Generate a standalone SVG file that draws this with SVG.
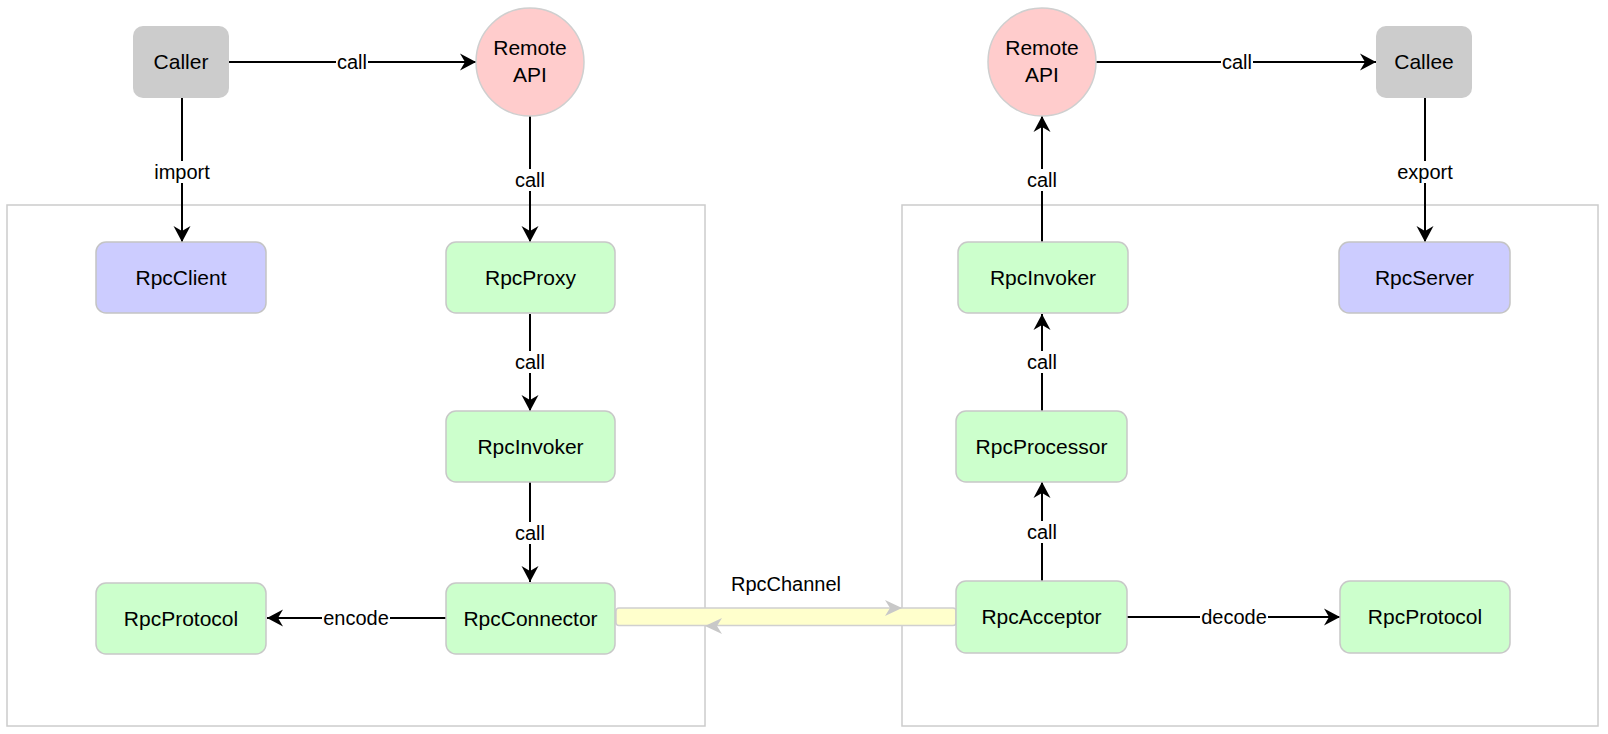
<svg xmlns="http://www.w3.org/2000/svg" width="1608" height="734" viewBox="0 0 1608 734">
<defs>
<style>
.frame{fill:#ffffff;stroke:#cccccc;stroke-width:1.5}
.gray{fill:#cccccc;stroke:none}
.blue{fill:#ccccff;stroke:#c4c4c4;stroke-width:1.5}
.green{fill:#ccffcc;stroke:#c8c8c8;stroke-width:1.5}
.red{fill:#ffcccc;stroke:#cfcfcf;stroke-width:1.5}
.nt{font-family:"Liberation Sans",Arial,Helvetica,sans-serif;font-size:21px;fill:#000;text-anchor:middle}
.et{font-family:"Liberation Sans",Arial,Helvetica,sans-serif;font-size:20px;fill:#000;text-anchor:middle}
.ln{fill:none;stroke:#000;stroke-width:2}
.bg{fill:#ffffff}
</style>
<marker id="arr" markerUnits="userSpaceOnUse" viewBox="-17 -9 18 18" refX="0" refY="0" markerWidth="18" markerHeight="18" orient="auto">
<path d="M0,0 L-16,-8.5 L-11,0 L-16,8.5 Z" fill="#000"/>
</marker>
</defs>
<rect width="1608" height="734" fill="#ffffff"/>
<g id="frames">
<rect id="client-frame" class="frame" x="7" y="205" width="698" height="521"/>
<rect id="server-frame" class="frame" x="902" y="205" width="696" height="521"/>
</g>
<g id="channel">
<rect x="616" y="608" width="340" height="17.5" rx="3" fill="#ffffcc" stroke="#d0d0d0" stroke-width="1.5"/>
<path d="M902,608 L885,600 L890,608 L885,616 Z" fill="#c8c8c8"/>
<path d="M705,626 L722,618 L717,626 L722,634 Z" fill="#c8c8c8"/>
<text class="et" x="786" y="591">RpcChannel</text>
</g>
<g id="connectors">
<line class="ln" x1="229" y1="62" x2="476" y2="62" marker-end="url(#arr)"/>
<line class="ln" x1="182" y1="98" x2="182" y2="242" marker-end="url(#arr)"/>
<line class="ln" x1="530" y1="116" x2="530" y2="242" marker-end="url(#arr)"/>
<line class="ln" x1="530" y1="314" x2="530" y2="411" marker-end="url(#arr)"/>
<line class="ln" x1="530" y1="482" x2="530" y2="582" marker-end="url(#arr)"/>
<line class="ln" x1="446" y1="618" x2="267" y2="618" marker-end="url(#arr)"/>
<line class="ln" x1="1096" y1="62" x2="1376" y2="62" marker-end="url(#arr)"/>
<line class="ln" x1="1042" y1="242" x2="1042" y2="116" marker-end="url(#arr)"/>
<line class="ln" x1="1425" y1="98" x2="1425" y2="242" marker-end="url(#arr)"/>
<line class="ln" x1="1042" y1="411" x2="1042" y2="314" marker-end="url(#arr)"/>
<line class="ln" x1="1042" y1="581" x2="1042" y2="482" marker-end="url(#arr)"/>
<line class="ln" x1="1127" y1="617" x2="1340" y2="617" marker-end="url(#arr)"/>
<rect class="bg" x="336" y="51" width="32" height="22"/>
<text class="et" x="352" y="69">call</text>
<rect class="bg" x="153" y="161" width="58" height="22"/>
<text class="et" x="182" y="179">import</text>
<rect class="bg" x="514" y="169" width="32" height="22"/>
<text class="et" x="530" y="187">call</text>
<rect class="bg" x="514" y="351" width="32" height="22"/>
<text class="et" x="530" y="369">call</text>
<rect class="bg" x="514" y="522" width="32" height="22"/>
<text class="et" x="530" y="540">call</text>
<rect class="bg" x="322" y="607" width="68" height="22"/>
<text class="et" x="356" y="625">encode</text>
<rect class="bg" x="1221" y="51" width="32" height="22"/>
<text class="et" x="1237" y="69">call</text>
<rect class="bg" x="1026" y="169" width="32" height="22"/>
<text class="et" x="1042" y="187">call</text>
<rect class="bg" x="1396" y="161" width="58" height="22"/>
<text class="et" x="1425" y="179">export</text>
<rect class="bg" x="1026" y="351" width="32" height="22"/>
<text class="et" x="1042" y="369">call</text>
<rect class="bg" x="1026" y="521" width="32" height="22"/>
<text class="et" x="1042" y="539">call</text>
<rect class="bg" x="1200" y="606" width="68" height="22"/>
<text class="et" x="1234" y="624">decode</text>
</g>
<g id="caller"><rect class="gray" x="133" y="26" width="96" height="72" rx="10"/><text class="nt" x="181" y="69">Caller</text></g>
<g id="remote-api-left"><circle class="red" cx="530" cy="62" r="54"/><text class="nt" x="530" y="55">Remote</text><text class="nt" x="530" y="82">API</text></g>
<g id="rpc-client"><rect class="blue" x="96" y="242" width="170" height="71" rx="10"/><text class="nt" x="181" y="285">RpcClient</text></g>
<g id="rpc-proxy"><rect class="green" x="446" y="242" width="169" height="71" rx="10"/><text class="nt" x="530.5" y="285">RpcProxy</text></g>
<g id="rpc-invoker-left"><rect class="green" x="446" y="411" width="169" height="71" rx="10"/><text class="nt" x="530.5" y="454">RpcInvoker</text></g>
<g id="rpc-connector"><rect class="green" x="446" y="583" width="169" height="71" rx="10"/><text class="nt" x="530.5" y="626">RpcConnector</text></g>
<g id="rpc-protocol-left"><rect class="green" x="96" y="583" width="170" height="71" rx="10"/><text class="nt" x="181" y="626">RpcProtocol</text></g>
<g id="remote-api-right"><circle class="red" cx="1042" cy="62" r="54"/><text class="nt" x="1042" y="55">Remote</text><text class="nt" x="1042" y="82">API</text></g>
<g id="callee"><rect class="gray" x="1376" y="26" width="96" height="72" rx="10"/><text class="nt" x="1424" y="69">Callee</text></g>
<g id="rpc-invoker-right"><rect class="green" x="958" y="242" width="170" height="71" rx="10"/><text class="nt" x="1043" y="285">RpcInvoker</text></g>
<g id="rpc-server"><rect class="blue" x="1339" y="242" width="171" height="71" rx="10"/><text class="nt" x="1424.5" y="285">RpcServer</text></g>
<g id="rpc-processor"><rect class="green" x="956" y="411" width="171" height="71" rx="10"/><text class="nt" x="1041.5" y="454">RpcProcessor</text></g>
<g id="rpc-acceptor"><rect class="green" x="956" y="581" width="171" height="72" rx="10"/><text class="nt" x="1041.5" y="624">RpcAcceptor</text></g>
<g id="rpc-protocol-right"><rect class="green" x="1340" y="581" width="170" height="72" rx="10"/><text class="nt" x="1425" y="624">RpcProtocol</text></g>
</svg>
